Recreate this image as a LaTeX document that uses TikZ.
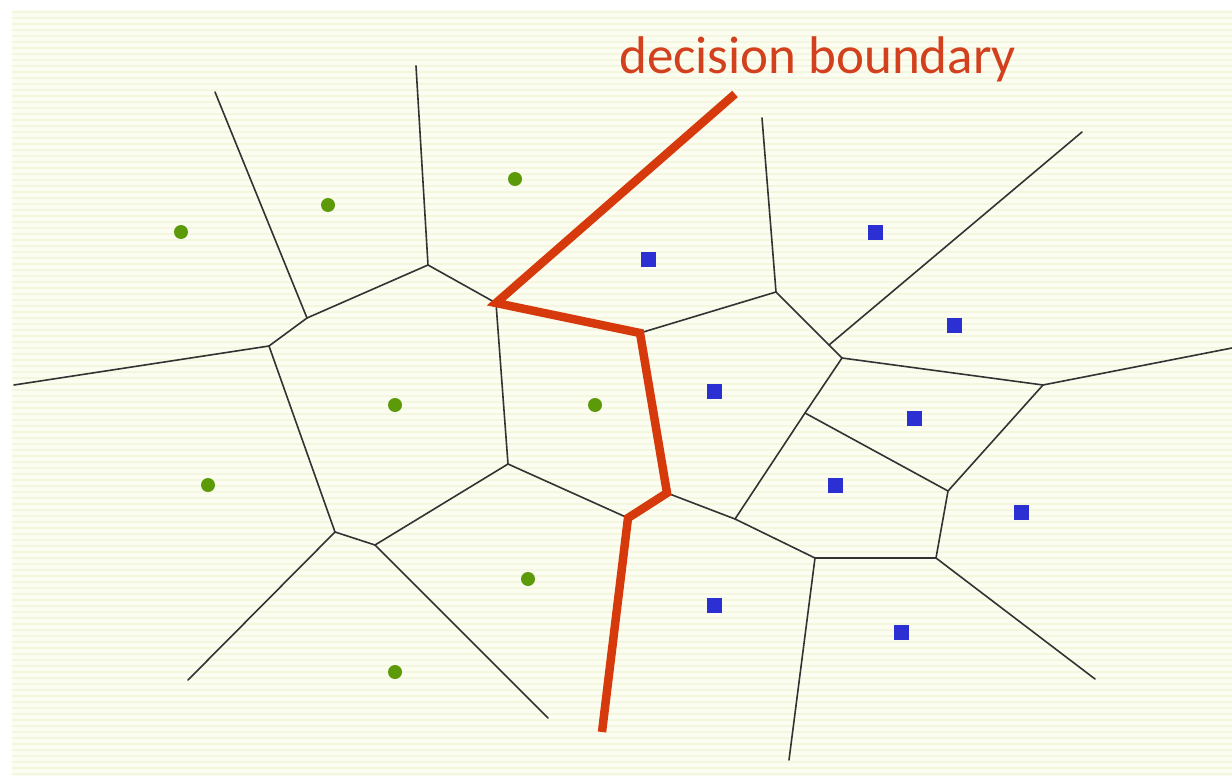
\documentclass[tikz,border=0pt]{standalone}
\usepackage{fontspec}
\setmainfont{Carlito}
\definecolor{panel}{HTML}{FCFDF1}
\definecolor{stripe}{HTML}{F4F6DF}
\definecolor{edgegray}{HTML}{333333}
\definecolor{boundred}{HTML}{D63A0C}
\definecolor{labelred}{HTML}{D2401E}
\definecolor{dotgreen}{HTML}{5C9A0A}
\definecolor{sqblue}{HTML}{2C30D2}
\tikzset{
  cell/.style={draw=edgegray, line width=1.6pt, line cap=round},
  boundary/.style={draw=boundred, line width=8.5pt, line join=miter, line cap=butt},
  gdot/.style={circle, fill=dotgreen, minimum size=14pt, inner sep=0pt},
  bsq/.style={rectangle, fill=sqblue, minimum size=15pt, inner sep=0pt},
}
\begin{document}
\begin{tikzpicture}[x=1pt, y=-1pt]
\useasboundingbox (0,0) rectangle (1232,776);
% striped panel
\fill[white] (0,0) rectangle (1232,776);
\fill[panel] (12,10) rectangle (1232,776);
\foreach \yy in {12,18,...,774}
  \draw[stripe, line width=2pt] (12,\yy) -- (1232,\yy);

% Voronoi vertices
\coordinate (a) at (215,92);
\coordinate (b) at (307,318);
\coordinate (c) at (416,66);
\coordinate (d) at (428,265);
\coordinate (e) at (269,346);
\coordinate (f) at (14,385);
\coordinate (g) at (496,303);
\coordinate (h) at (335,532);
\coordinate (i) at (508,464);
\coordinate (j) at (375,545);
\coordinate (k) at (188,680);
\coordinate (l) at (548,718);
\coordinate (m) at (628,518);
\coordinate (n) at (640,333);
\coordinate (o) at (667,493);
\coordinate (p) at (602,732);
\coordinate (q) at (776,292);
\coordinate (r) at (762,118);
\coordinate (t) at (829,345);
\coordinate (u) at (842,358);
\coordinate (v) at (1082,132);
\coordinate (w) at (1043,385);
\coordinate (x) at (1232,348);
\coordinate (y) at (805,413);
\coordinate (z) at (735,519);
\coordinate (aa) at (815,558);
\coordinate (bb) at (948,491);
\coordinate (cc) at (936,558);
\coordinate (dd) at (789,760);
\coordinate (ee) at (1095,679);
\coordinate (top) at (735,94);

% cell edges
\draw[cell] (a) -- (b) -- (d) -- (c);
\draw[cell] (b) -- (e) -- (f);
\draw[cell] (d) -- (g);
\draw[cell] (e) -- (h) -- (j) -- (i) -- (g);
\draw[cell] (h) -- (k);
\draw[cell] (j) -- (l);
\draw[cell] (i) -- (m);
\draw[cell] (n) -- (q) -- (r);
\draw[cell] (q) -- (t) -- (u);
\draw[cell] (t) -- (v);
\draw[cell] (u) -- (w) -- (x);
\draw[cell] (u) -- (y) -- (z);
\draw[cell] (o) -- (z) -- (aa) -- (cc) -- (bb) -- (y);
\draw[cell] (w) -- (bb);
\draw[cell] (aa) -- (dd);
\draw[cell] (cc) -- (ee);

% decision boundary
\draw[boundary] (top) -- (g) -- (n) -- (o) -- (m) -- (p);
\node[text=labelred, font=\fontsize{53}{58}\selectfont, anchor=base west, inner sep=0pt] (lbl) at (619,74) {decision boundary};

% class one samples
\foreach \px/\py [count=\k] in {181/232, 328/205, 515/179, 395/405, 595/405, 208/485, 528/579, 395/672}
  \node[gdot] (g\k) at (\px,\py) {};
% class two samples
\foreach \px/\py [count=\k] in {648/259, 875/232, 954/325, 714/391, 914/418, 835/485, 1021/512, 714/605, 901/632}
  \node[bsq] (s\k) at (\px,\py) {};
\end{tikzpicture}
\end{document}
